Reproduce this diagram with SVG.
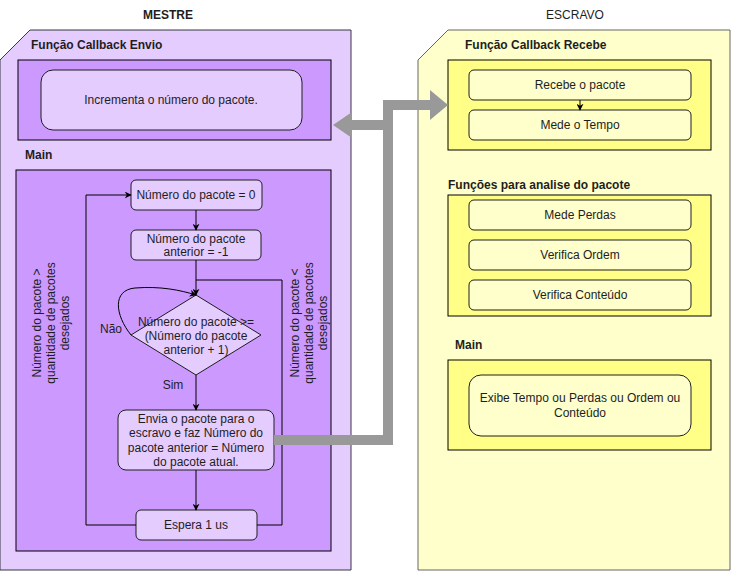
<svg xmlns="http://www.w3.org/2000/svg" width="733" height="571" viewBox="0 0 733 571">
<style>
text{font-family:"Liberation Sans",Arial,sans-serif;font-size:12px;fill:#1e1e1e}
.b{font-weight:bold}
.c{text-anchor:middle}
.pn{fill:#E5CCFF;stroke:#1e1e1e;stroke-width:1}
.pb{fill:#CC99FF;stroke:#000;stroke-width:1}
.yn{fill:#FFFFCC;stroke:#1e1e1e;stroke-width:1}
.yb{fill:#FFFF88;stroke:#000;stroke-width:1}
.ln{fill:none;stroke:#000;stroke-width:1}
.g{fill:none;stroke:#999999;stroke-width:10}
.ga{fill:#999999}
</style>
<defs>
<marker id="ar" viewBox="0 0 10 10" refX="9" refY="5" markerWidth="7" markerHeight="7" orient="auto" markerUnits="userSpaceOnUse">
<path d="M0,0 L10,5 L0,10 L3,5 Z" fill="#000"/>
</marker>
</defs>
<text class="b c" x="168" y="19">MESTRE</text>
<text class="c" x="575" y="19">ESCRAVO</text>
<g id="mestre">
<path d="M30,30 H351 V570 H0 V60 Z" fill="#E5CCFF" stroke="#36393d"/>
<text class="b" x="31" y="49">Função Callback Envio</text>
<text class="b" x="25" y="159">Main</text>
</g>
<g id="envio-box"><rect class="pb" x="18" y="60" width="313" height="80"/></g>
<g id="incrementa"><rect class="pn" x="41" y="70" width="261" height="60" rx="12"/><text class="c" x="171" y="104">Incrementa o número do pacote.</text></g>
<g id="main-mestre"><rect class="pb" x="16" y="170" width="315" height="381"/></g>
<g id="escravo">
<path d="M448,30 H730 V570 H418 V60 Z" fill="#FFFFCC" stroke="#666"/>
<text class="b" x="465" y="49">Função Callback Recebe</text>
<text class="b" x="448" y="189">Funções para analise do pacote</text>
<text class="b" x="455" y="349">Main</text>
</g>
<g id="recebe-box"><rect class="yb" x="448" y="60" width="263" height="90"/></g>
<g id="analise-box"><rect class="yb" x="448" y="195" width="263" height="121"/></g>
<g id="main-escravo"><rect class="yb" x="448" y="360" width="263" height="90"/></g>
<g id="recebe"><rect class="yn" x="469" y="70" width="222" height="30" rx="5"/><text class="c" x="580" y="89">Recebe o pacote</text></g>
<g id="mede-tempo"><rect class="yn" x="469" y="110" width="222" height="30" rx="5"/><text class="c" x="580" y="129">Mede o Tempo</text></g>
<g id="mede-perdas"><rect class="yn" x="469" y="200" width="222" height="30" rx="5"/><text class="c" x="580" y="219">Mede Perdas</text></g>
<g id="verifica-ordem"><rect class="yn" x="469" y="240" width="222" height="30" rx="5"/><text class="c" x="580" y="259">Verifica Ordem</text></g>
<g id="verifica-conteudo"><rect class="yn" x="469" y="280" width="222" height="30" rx="5"/><text class="c" x="580" y="299">Verifica Conteúdo</text></g>
<g id="exibe"><rect class="yn" x="469" y="375" width="222" height="61" rx="12"/><text class="c" x="580" y="402">Exibe Tempo ou Perdas ou Ordem ou</text><text class="c" x="580" y="417">Conteúdo</text></g>
<g id="num0"><rect class="pn" x="131" y="180" width="131" height="30" rx="5"/><text class="c" x="196" y="199">Número do pacote = 0</text></g>
<g id="anterior"><rect class="pn" x="131" y="230" width="130" height="30" rx="5"/><text class="c" x="196" y="243">Número do pacote</text><text class="c" x="196" y="256">anterior = -1</text></g>
<g id="decisao"><path class="pn" d="M196,295 L261,335 L196,375 L131,335 Z"/><text class="c" x="196" y="326">Número do pacote &gt;=</text><text class="c" x="196" y="340">(Número do pacote</text><text class="c" x="196" y="354">anterior + 1)</text></g>
<g id="envia"><rect class="pn" x="118" y="410" width="156" height="60" rx="8"/><text class="c" x="196" y="423">Envia o pacote para o</text><text class="c" x="196" y="437">escravo e faz Número do</text><text class="c" x="196" y="452">pacote anterior = Número</text><text class="c" x="196" y="466">do pacote atual.</text></g>
<g id="espera"><rect class="pn" x="136" y="510" width="121" height="30" rx="5"/><text class="c" x="196" y="529">Espera 1 us</text></g>
<g id="connectors">
<path class="ln" d="M196,210 V230" marker-end="url(#ar)"/>
<path class="ln" d="M196,260 V295" marker-end="url(#ar)"/>
<path class="ln" d="M196,375 V410" marker-end="url(#ar)"/>
<path class="ln" d="M196,470 V510" marker-end="url(#ar)"/>
<path class="ln" d="M580,100 V110" marker-end="url(#ar)"/>
<path class="ln" d="M136,525 H86 V195 H131" marker-end="url(#ar)"/>
<path class="ln" d="M257,525 H282 V280 H196"/>
<path class="ln" d="M131,335 C115,315 112,290 135,288 C160,286 180,290 196,295" marker-end="url(#ar)"/>
<text class="c" x="111" y="333">Não</text>
<text class="c" x="173" y="389">Sim</text>
<g transform="translate(51,323) rotate(-90)"><text class="c" x="0" y="-10">Número do pacote &gt;</text><text class="c" x="0" y="4">quantidade de pacotes</text><text class="c" x="0" y="18">desejados</text></g>
<g transform="translate(309,323) rotate(-90)"><text class="c" x="0" y="-10">Número do pacote &lt;</text><text class="c" x="0" y="4">quantidade de pacotes</text><text class="c" x="0" y="18">desejados</text></g>
<path class="g" d="M274,440 H388 V105 H431"/>
<path class="g" d="M393,125 H351"/>
<path class="ga" d="M430,90 L448,105 L430,120 Z"/>
<path class="ga" d="M352,112 L333,125 L352,138 Z"/>
</g>
</svg>
